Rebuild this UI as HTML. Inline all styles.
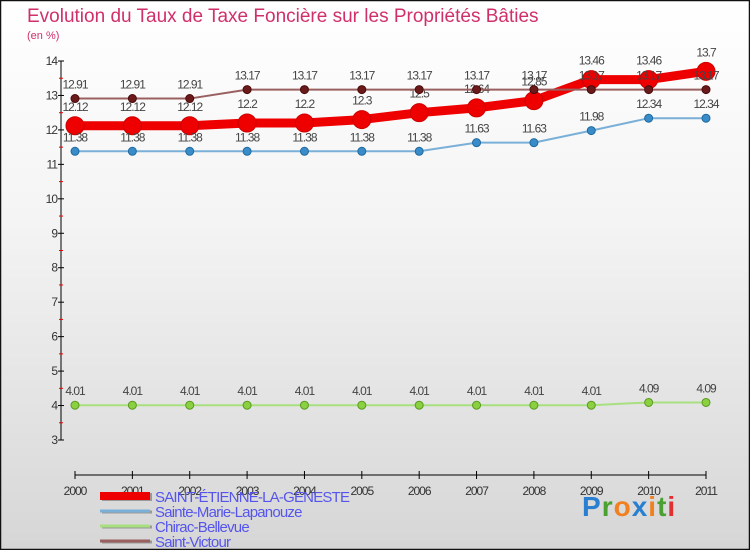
<!DOCTYPE html>
<html><head><meta charset="utf-8"><style>
body{margin:0;}
#wrap{width:750px;height:550px;position:relative;overflow:hidden;background:linear-gradient(#ffffff,#f4f4f4 40%,#d6d6d6);font-family:"Liberation Sans",sans-serif;}
</style></head><body>
<div id="wrap">
<svg id="chart" width="750" height="550"></svg>
</div>
<script>
const years=["2000","2001","2002","2003","2004","2005","2006","2007","2008","2009","2010","2011"];
const yTicks=[3,4,5,6,7,8,9,10,11,12,13,14];
const seriesNames=["SAINT-ÉTIENNE-LA-GENESTE","Sainte-Marie-Lapanouze","Chirac-Bellevue","Saint-Victour"];
const stEtienne=[12.12,12.12,12.12,12.2,12.2,12.3,12.5,12.64,12.85,13.46,13.46,13.7];
const steMarie=[11.38,11.38,11.38,11.38,11.38,11.38,11.38,11.63,11.63,11.98,12.34,12.34];
const chirac=[4.01,4.01,4.01,4.01,4.01,4.01,4.01,4.01,4.01,4.01,4.09,4.09];
const stVictour=[12.91,12.91,12.91,13.17,13.17,13.17,13.17,13.17,13.17,13.17,13.17,13.17];
const NS="http://www.w3.org/2000/svg";
const svg=document.getElementById('chart');
function el(t,a,p){const e=document.createElementNS(NS,t);for(const k in a)e.setAttribute(k,a[k]);(p||svg).appendChild(e);return e;}
const x=i=>75+i*(706-75)/11;
const y=v=>440-(v-3)*(440-61)/11;
// frame
const fr=el('rect',{x:0.5,y:0.5,width:749,height:549,fill:'none',stroke:'#111',"stroke-width":1.5});

let t=el('text',{x:27,y:22,"font-size":19,fill:'#d0306a'});t.textContent='Evolution du Taux de Taxe Foncière sur les Propriétés Bâties';

t=el('text',{x:27,y:39,"font-size":11,fill:'#d0306a'});t.textContent='(en %)';

// axes
const ax=el('g',{});
el('line',{x1:61,y1:y(14),x2:61,y2:y(3),stroke:'#000'},ax);
el('line',{x1:75,y1:475,x2:706,y2:475,stroke:'#000'},ax);
yTicks.forEach(v=>{el('line',{x1:58,x2:64,y1:y(v),y2:y(v),stroke:'#000'},ax);
 if(v<14)el('line',{x1:59,x2:63,y1:y(v+0.5),y2:y(v+0.5),stroke:'#e00'},ax);
 const tt=el('text',{x:57,y:y(v)+4,"font-size":12,fill:'#333',"text-anchor":'end',"letter-spacing":-1},ax);tt.textContent=v;
 });
years.forEach((yr,i)=>{el('line',{x1:x(i),x2:x(i),y1:471,y2:479,stroke:'#000'},ax);
 const tt=el('text',{x:x(i),y:495,"font-size":12,fill:'#333',"text-anchor":'middle',"letter-spacing":-1},ax);tt.textContent=yr;
 });
function series(data,name,color,w,r,dot,dotStroke){
 const g=el('g',{});
 el('polyline',{points:data.map((v,i)=>x(i)+','+y(v)).join(' '),fill:'none',stroke:color,"stroke-width":w,"stroke-linejoin":'round'},g);
 data.forEach((v,i)=>{const c=el('circle',{cx:x(i),cy:y(v),r:r,fill:dot,stroke:dotStroke,"stroke-width":1},g);
  
  const l=el('text',{x:x(i),y:y(v)-r-6,"font-size":12,fill:'#444',"text-anchor":'middle',"letter-spacing":-1},g);l.textContent=v;
  });
}
series(stEtienne,'series-saint-etienne','#e00',9,9,'#e00','#c00');
series(steMarie,'series-sainte-marie','#7ab0d8',2,4,'#3a8cc8','#1d6aa0');
series(chirac,'series-chirac','#a8e080',2,4,'#8ad040','#5a9a20');
series(stVictour,'series-saint-victour','#9a6060',2,4,'#6a1a1a','#4a0a0a');
// legend
const lg=el('g',{});
const lc=[['#e00',8],['#7ab0d8',3],['#a8e080',3],['#9a6060',3]];
seriesNames.forEach((n,i)=>{const yy=496+i*15;
 el('rect',{x:102,y:yy-lc[i][1]/2+1,width:50,height:lc[i][1],fill:'#999'},lg);
 el('rect',{x:100,y:yy-lc[i][1]/2,width:50,height:lc[i][1],fill:lc[i][0]},lg);
 const tt=el('text',{x:155,y:yy+6,"font-size":15,fill:'#5555ee',"letter-spacing":-0.8},lg);tt.textContent=n;
 });
const logo=el('text',{x:582,y:516,"font-size":28,"font-weight":'bold',"letter-spacing":1},null);

[['P','#2a7fd0'],['r','#4aa030'],['o','#f08020'],['x','#2a7fd0'],['i','#f08020'],['t','#4aa030'],['i','#e03030']].forEach(([c,f])=>{const s=el('tspan',{fill:f},logo);s.textContent=c;});
</script>
</body></html>
